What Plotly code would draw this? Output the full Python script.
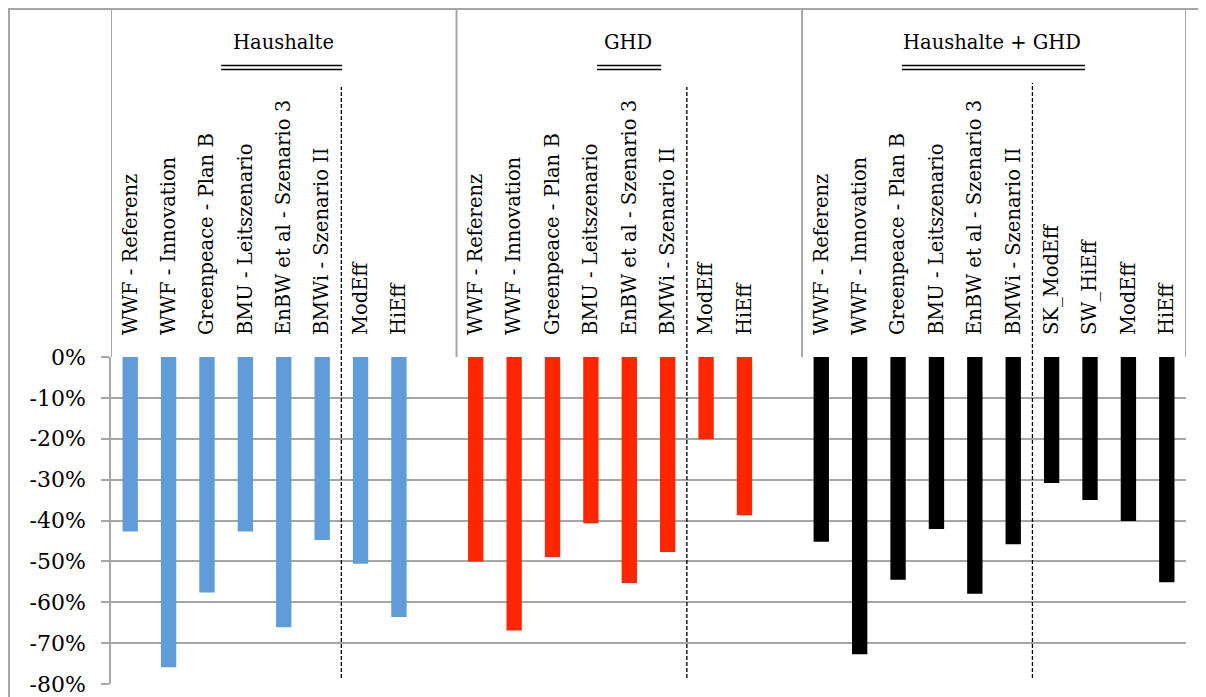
import plotly.graph_objects as go

# ---------------- data ----------------
group_titles = ["Haushalte", "GHD", "Haushalte + GHD"]

hh_labels = ["WWF - Referenz", "WWF - Innovation", "Greenpeace - Plan B",
             "BMU - Leitszenario", "EnBW et al - Szenario 3", "BMWi - Szenario II",
             "ModEff", "HiEff"]
hh_values = [-42.7, -75.9, -57.6, -42.7, -66.1, -44.8, -50.6, -63.6]

ghd_labels = ["WWF - Referenz", "WWF - Innovation", "Greenpeace - Plan B",
              "BMU - Leitszenario", "EnBW et al - Szenario 3", "BMWi - Szenario II",
              "ModEff", "HiEff"]
ghd_values = [-50.0, -66.9, -48.9, -40.7, -55.3, -47.7, -20.1, -38.7]

both_labels = ["WWF - Referenz", "WWF - Innovation", "Greenpeace - Plan B",
               "BMU - Leitszenario", "EnBW et al - Szenario 3", "BMWi - Szenario II",
               "SK_ModEff", "SW_HiEff", "ModEff", "HiEff"]
both_values = [-45.2, -72.7, -54.5, -42.1, -57.9, -45.8, -30.8, -35.0, -40.1, -55.1]

y_tick_values = [0, -10, -20, -30, -40, -50, -60, -70, -80]
y_tick_labels = ["0%", "-10%", "-20%", "-30%", "-40%", "-50%", "-60%", "-70%", "-80%"]

# ---------------- layout helpers ----------------
# the page body adds an 8px offset, so the figure is sized/positioned for it
OFF = 8
W, H = 1206 - OFF, 697 - OFF
ML, MR, MT, MB = 111 - OFF, 20, 357 - OFF, 13
PH = H - MT - MB  # plot height in px
PW = W - ML - MR


def py(ypx):
    """screen pixel y -> paper y"""
    return (H - MB - (ypx - OFF)) / PH


def px(xpx):
    """screen pixel x -> paper x"""
    return ((xpx - OFF) - ML) / PW


groups = [
    (hh_labels, hh_values, "#5f9cd9", 0),
    (ghd_labels, ghd_values, "#ff2600", 9),
    (both_labels, both_values, "#000000", 18),
]

FONT = "DejaVu Serif"
GRID = "#a6a6a6"

fig = go.Figure()
tickvals, ticktext = [], []
for labels, values, color, offset in groups:
    xs = [offset + i for i in range(len(labels))]
    tickvals += xs
    ticktext += labels
    fig.add_trace(go.Bar(x=xs, y=values, width=0.4,
                         marker=dict(color=color, line=dict(width=0)),
                         hoverinfo="y"))

shapes = []
# outer frame (top + left)
shapes.append(dict(type="line", xref="paper", yref="paper",
                   x0=px(8), x1=px(1206), y0=py(9), y1=py(9),
                   line=dict(color=GRID, width=2)))
shapes.append(dict(type="line", xref="paper", yref="paper",
                   x0=px(9), x1=px(9), y0=py(9), y1=py(697),
                   line=dict(color=GRID, width=2)))
# header box verticals at group boundaries
for xb in [-0.5, 8.5, 17.5, 27.5]:
    shapes.append(dict(type="line", xref="x", yref="paper",
                       x0=xb, x1=xb, y0=1, y1=py(9),
                       line=dict(color=GRID, width=2)))
# dashed separators
for xd, ytop in [(5.5, 87), (14.5, 87), (23.5, 83)]:
    shapes.append(dict(type="line", xref="x", yref="paper",
                       x0=xd, x1=xd, y0=py(678), y1=py(ytop),
                       line=dict(color="black", width=1.3, dash="4px,2px")))
# double underlines below group titles
for x0, x1 in [(2.37, 5.52), (12.16, 13.83), (20.1, 24.87)]:
    for yy in [65.5, 69.5]:
        shapes.append(dict(type="line", xref="x", yref="paper",
                           x0=x0, x1=x1, y0=py(yy), y1=py(yy),
                           line=dict(color="black", width=1.4)))

annotations = []
for title, xc in zip(group_titles, [3.98, 12.97, 22.45]):
    annotations.append(dict(text=title, x=xc, xref="x", y=py(43), yref="paper",
                            showarrow=False, xanchor="center", yanchor="middle",
                            font=dict(family=FONT, size=19.5, color="black")))

fig.update_layout(
    width=W, height=H,
    margin=dict(l=ML, r=MR, t=MT, b=MB, autoexpand=False),
    plot_bgcolor="white", paper_bgcolor="white",
    showlegend=False,
    shapes=shapes,
    annotations=annotations,
    xaxis=dict(range=[-0.5, 27.5], side="top", tickmode="array",
               tickvals=tickvals, ticktext=ticktext, tickangle=-90,
               showgrid=False, zeroline=False, showline=False, ticks="",
               ticklabelstandoff=21, automargin=False,
               tickfont=dict(family=FONT, size=19.5, color="black")),
    yaxis=dict(range=[-80, 0], tickmode="array", tickvals=y_tick_values,
               ticktext=y_tick_labels, showgrid=True, gridcolor=GRID, gridwidth=1.6,
               showline=True, linecolor=GRID, linewidth=1.6, zeroline=False,
               ticks="outside", ticklen=8, tickcolor=GRID, tickwidth=1.6,
               ticklabelstandoff=11, automargin=False,
               tickfont=dict(family=FONT, size=22, color="black")),
)

fig.write_html("out.html")
